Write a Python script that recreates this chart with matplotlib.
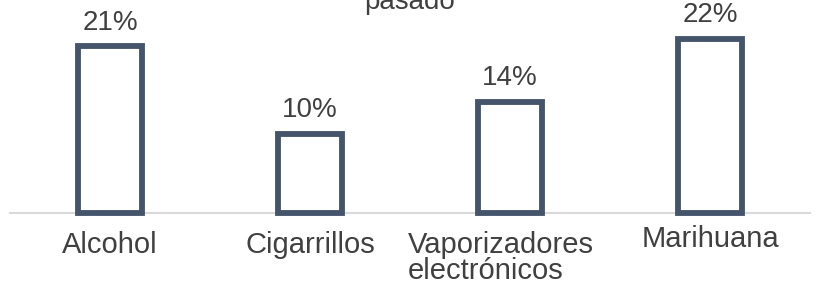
import matplotlib
matplotlib.use('Agg')
import matplotlib.pyplot as plt
import matplotlib.transforms as mtransforms

categories = ['Alcohol', 'Cigarrillos', 'Vaporizadores\nelectrónicos', 'Marihuana']
values = [21, 10, 14, 22]
value_labels = ['21%', '10%', '14%', '22%']
title = 'pasado'

plt.rcParams['font.family'] = ['Liberation Sans', 'DejaVu Sans']
text_color = '#404040'
bar_color = '#44546A'

fig = plt.figure(figsize=(8.17, 2.85), dpi=100)
ax = fig.add_axes([10 / 817, 72 / 285, 800 / 817, 213 / 285])

x = range(len(categories))
bars = ax.bar(x, values, width=0.32, color='white', edgecolor=bar_color,
              linewidth=4.2, zorder=3, clip_on=False)

for xi, v, lab in zip(x, values, value_labels):
    ax.annotate(lab, (xi, v), xytext=(0, 12), textcoords='offset points',
                ha='center', va='baseline', fontsize=20, color=text_color)

ax.set_xlim(-0.5, len(categories) - 0.5)
ax.set_ylim(0, 26.86)
ax.set_xticks(list(x))
ax.set_xticklabels(categories, fontsize=21, color=text_color, linespacing=0.92)
ax.tick_params(axis='x', length=0, pad=13)
ax.set_yticks([])

# small nudges of some labels, as in the original
labels = ax.get_xticklabels()
labels[2].set_multialignment('left')
labels[2].set_transform(labels[2].get_transform() +
                        mtransforms.ScaledTranslation(-9 / 100, 0, fig.dpi_scale_trans))
labels[3].set_transform(labels[3].get_transform() +
                        mtransforms.ScaledTranslation(0, 6 / 100, fig.dpi_scale_trans))

for s in ['top', 'left', 'right']:
    ax.spines[s].set_visible(False)
ax.spines['bottom'].set_color('#D9D9D9')
ax.spines['bottom'].set_linewidth(1.5)
ax.spines['bottom'].set_zorder(1)
ax.patch.set_alpha(0)

fig.text(410 / 817, 1 - 9 / 285, title, ha='center', va='baseline',
         fontsize=20, color=text_color)

fig.savefig('out.png', dpi=100)
